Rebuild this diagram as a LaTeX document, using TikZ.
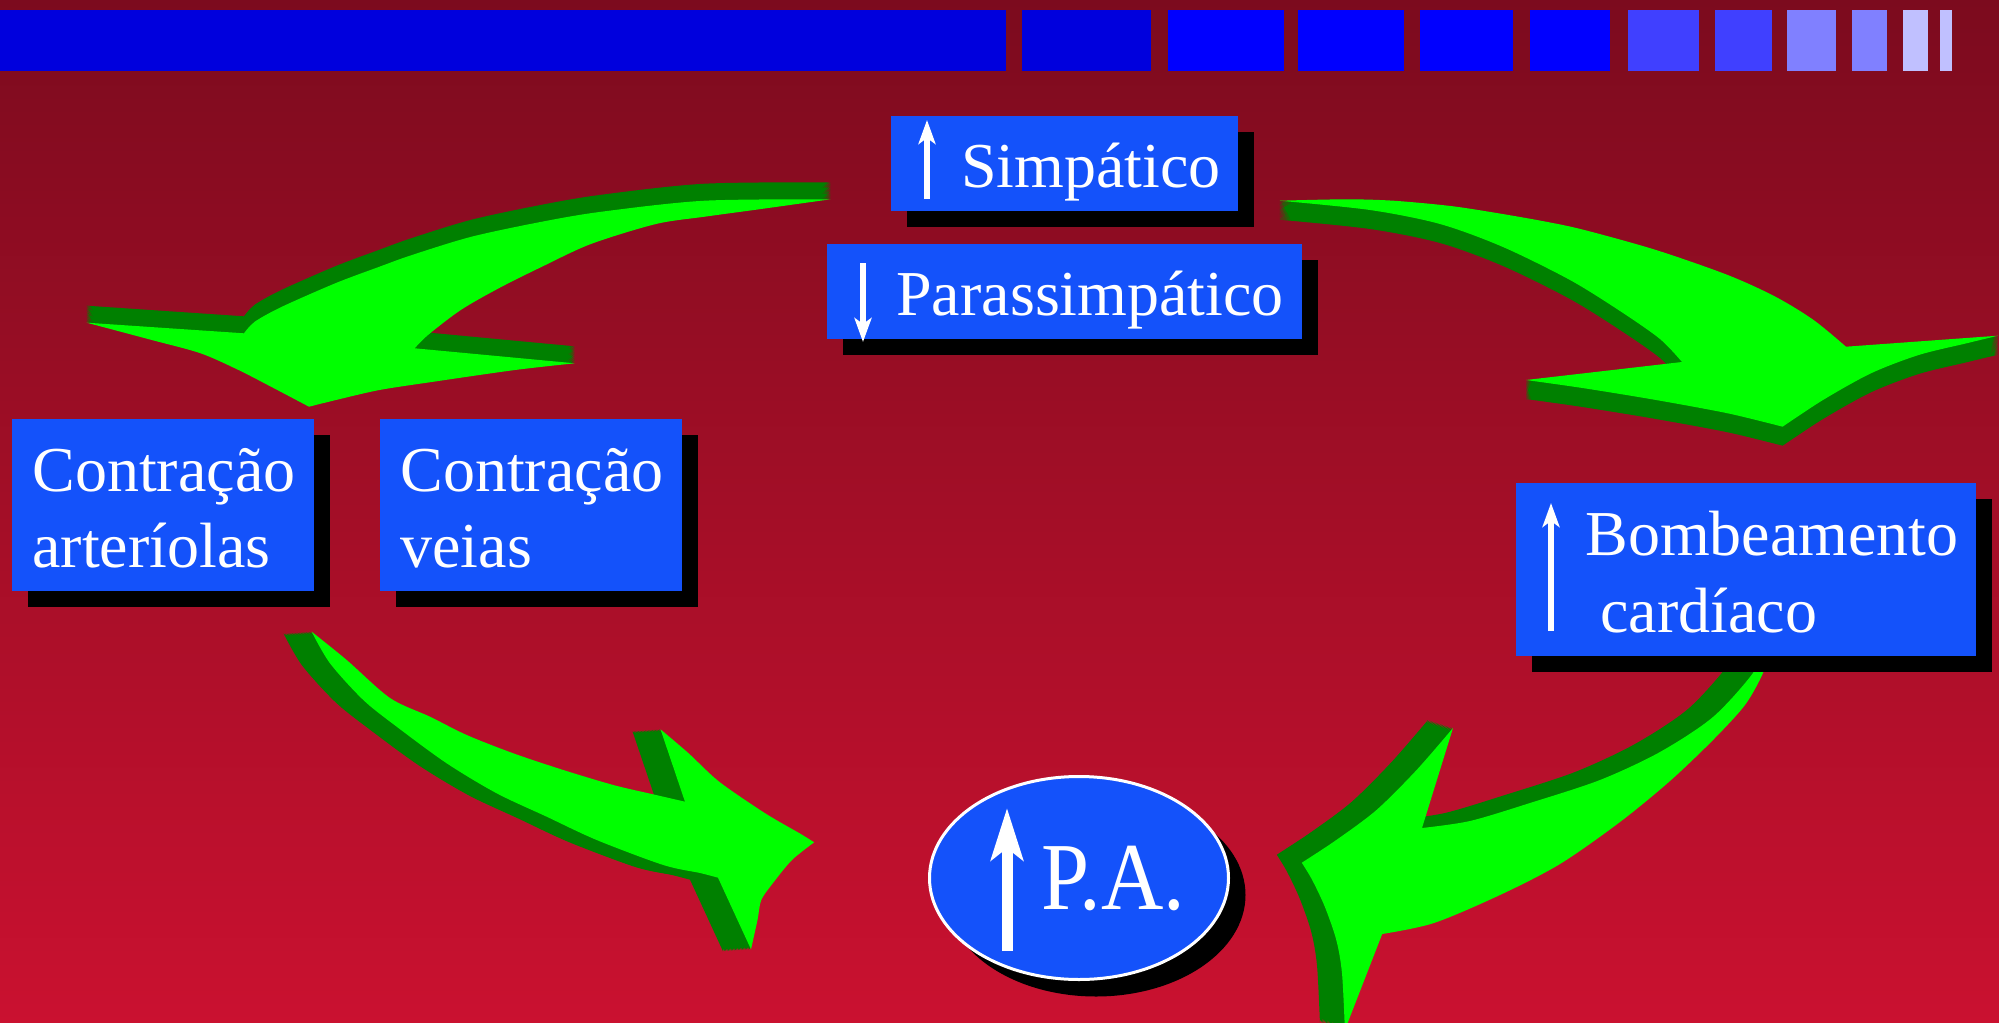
\documentclass[tikz,border=0pt]{standalone}
\usepackage{fontspec}
\setmainfont{Liberation Serif}
\usepackage{graphicx}
\usetikzlibrary{shadows,arrows.meta,shapes.geometric}

\definecolor{bgtop}{RGB}{124,11,30}
\definecolor{bgbot}{RGB}{202,17,48}
\definecolor{barA}{RGB}{0,0,221}
\definecolor{barB}{RGB}{0,0,255}
\definecolor{barC}{RGB}{64,64,255}
\definecolor{barD}{RGB}{128,128,255}
\definecolor{barE}{RGB}{192,192,255}
\definecolor{boxblue}{RGB}{20,82,250}
\definecolor{leaflight}{RGB}{0,255,0}
\definecolor{leafdark}{RGB}{0,128,0}

\tikzset{
  box/.style={rectangle, fill=boxblue, inner sep=0pt,
    drop shadow={shadow xshift=8pt, shadow yshift=-8pt, fill=black, opacity=1, draw=none}},
  lbl/.style={text=white, inner sep=0pt, anchor=base west, font=\fontsize{32}{38}\selectfont},
  tick/.style={white, line width=2.7pt, -{Stealth[length=12pt,width=8.5pt,inset=3pt]}},
  face/.style={fill=leaflight},
  side/.style={fill=leafdark},
}

% block arrow with a solid side: the outline is swept along (#2,#3) in
% dark green, then the top face is laid over it in bright green
\newcommand\solidarrow[3]{%
  \foreach \k in {1,...,20}{\fill[side, shift={({#2*\k/20},{#3*\k/20})}] #1;}
  \fill[face] #1;}

\begin{document}
\begin{tikzpicture}[x=0.5pt, y=-0.5pt]
\useasboundingbox (0,0) rectangle (1999,1023);
\clip (0,0) rectangle (1999,1023);

% background
\shade[top color=bgtop, bottom color=bgbot] (0,0) rectangle (1999,1023);

% banner of blocks along the top
\fill[barA] (0,10) rectangle (1006,71);
\fill[barA] (1022,10) rectangle (1151,71);
\fill[barB] (1168,10) rectangle (1284,71);
\fill[barB] (1298,10) rectangle (1404,71);
\fill[barB] (1420,10) rectangle (1513,71);
\fill[barB] (1530,10) rectangle (1610,71);
\fill[barC] (1628,10) rectangle (1699,71);
\fill[barC] (1715,10) rectangle (1772,71);
\fill[barD] (1787,10) rectangle (1836,71);
\fill[barD] (1852,10) rectangle (1887,71);
\fill[barE] (1903,10) rectangle (1928,71);
\fill[barE] (1940,10) rectangle (1952,71);

% curved block arrow: autonomic -> vessels
\solidarrow{plot[smooth,tension=0.5] coordinates {(830.5,199.3) (704.7,200.7) (601.7,211.7) (542,221.7) (471.6,236.7) (412,255) (379.5,266.7) (336,283) (282,306.7) (254.8,321.7) (244,333.3)}
  -- (86.7,322.7)
  -- plot[smooth,tension=0.5] coordinates {(86.7,322.7) (151.8,340) (200.6,353.3) (238.5,370) (271,386.7) (309,406.7)}
  -- plot[smooth,tension=0.5] coordinates {(309,406.7) (336,400) (379.5,390) (433.7,381.7) (515,370) (574.6,363.3)}
  -- (414.7,348.3)
  -- plot[smooth,tension=0.5] coordinates {(414.7,348.3) (428,335) (460.8,310) (498.7,288.3) (542,266.7) (590.9,244) (656,224) (704.7,216.7) (759,209.3) (830.5,199.3)}
  -- cycle}{0}{-17}

% curved block arrow: autonomic -> heart
\solidarrow{plot[smooth,tension=0.5] coordinates {(1279.6,200.7) (1345.5,199.3) (1393.3,200.7) (1450.6,206) (1498.4,213.3) (1546,221.7) (1584.4,230) (1656,250) (1727.7,275) (1775.4,296.7) (1813.6,320) (1846,346.7)}
  -- (1998,335.7)
  -- plot[smooth,tension=0.5] coordinates {(1998,335.7) (1966.5,343.3) (1918.7,355) (1871,373.3) (1823,400) (1782.6,426.7)}
  -- plot[smooth,tension=0.5] coordinates {(1782.6,426.7) (1727.7,413.3) (1656,400) (1584.4,388.3) (1526,380)}
  -- (1682,362)
  -- plot[smooth,tension=0.5] coordinates {(1682,362) (1660,339) (1620,311) (1570,280) (1503,247) (1440,224) (1370,210) (1279.6,200.7)}
  -- cycle}{0}{19}

% curved block arrow: vessels -> pressure
\solidarrow{plot[smooth,tension=0.5] coordinates {(311.7,631.7) (346.7,660) (390,698) (430,716.7) (466.7,735) (513.3,753.3) (563.3,770) (613.3,785) (651.7,794) (685,801.7)}
  -- (660.5,729.3)
  -- plot[smooth,tension=0.5] coordinates {(660.5,729.3) (688.6,753.3) (719.2,781.7) (765.2,813.3) (799.6,833.3) (814.2,842.3)}
  -- plot[smooth,tension=0.5] coordinates {(814.2,842.3) (792,860) (772.8,883.3) (761.3,900) (757.5,920) (751,949.3)}
  -- (718,877.7)
  -- plot[smooth,tension=0.5] coordinates {(718,877.7) (700,873) (663.3,865) (596.7,840) (546.7,816.7) (496.7,793.3) (446.7,763.3) (396.7,726.7) (363.3,700) (330,663.3) (311.7,631.7)}
  -- cycle}{-28}{2}

% curved block arrow: heart -> pressure
\solidarrow{plot[smooth,tension=0.5] coordinates {(1766,655) (1763,673) (1745,705) (1713,740) (1670,781) (1620,822) (1560,864) (1500,895) (1434,923) (1382.2,934)}
  -- (1344.9,1030)
  -- plot[smooth,tension=0.5] coordinates {(1344.9,1030) (1342,973.3) (1336.3,940) (1324.8,906.7) (1312.2,880) (1301.8,862.7)}
  -- plot[smooth,tension=0.5] coordinates {(1301.8,862.7) (1336.3,840) (1376.5,810) (1416.6,770) (1453,728)}
  -- (1422,828)
  -- plot[smooth,tension=0.5] coordinates {(1422,828) (1470,821) (1530,803) (1600,780) (1660,752) (1713,717) (1753,673) (1757,655)}
  -- cycle}{-25}{-8}

% boxes
\node[box, minimum width=173.5pt, minimum height=47.5pt] (simp) at (1064.5,163.5) {};
\node[box, minimum width=237.5pt, minimum height=47.5pt] (para) at (1064.5,291.5) {};
\node[box, minimum width=151pt, minimum height=86pt] (art) at (163,505) {};
\node[box, minimum width=151pt, minimum height=86pt] (vei) at (531,505) {};
\node[box, minimum width=230pt, minimum height=86.5pt] (bomb) at (1746,569.5) {};
\node[ellipse, fill=boxblue, draw=white, line width=1.5pt, inner sep=0pt,
      minimum width=149.5pt, minimum height=101.5pt,
      drop shadow={shadow xshift=8.5pt, shadow yshift=-8.5pt, fill=black, opacity=1, draw=none}]
      (pa) at (1079,878) {};

% labels
\node[lbl] (simpT) at (961,187) {Simpático};
\node[lbl] (paraT) at (896,315) {Parassimpático};
\node[lbl] (artA) at (32,491) {Contração};
\node[lbl] (artB) at (32,567) {arteríolas};
\node[lbl] (veiA) at (400,491) {Contração};
\node[lbl] (veiB) at (400,567) {veias};
\node[lbl] (bombA) at (1585,555) {Bombeamento};
\node[lbl] (bombB) at (1600,632) {cardíaco};
\node[text=white, inner sep=0pt, anchor=base west, font=\fontsize{48}{56}\selectfont]
      (paT) at (1041,909) {\scalebox{0.9}[1]{P.A.}};

% up / down marks
\coordinate (simpUa) at (927,199);  \coordinate (simpUb) at (927,120);
\coordinate (paraDa) at (863,263);  \coordinate (paraDb) at (863,342);
\coordinate (bombUa) at (1551,631); \coordinate (bombUb) at (1551,503);
\coordinate (paUa) at (1007,951);   \coordinate (paUb) at (1007,808);
\draw[tick] (simpUa) -- (simpUb);
\draw[tick] (paraDa) -- (paraDb);
\draw[tick] (bombUa) -- (bombUb);
\draw[white, line width=5.5pt, -{Stealth[length=26pt,width=16pt,inset=6pt]}] (paUa) -- (paUb);
\end{tikzpicture}
\end{document}
